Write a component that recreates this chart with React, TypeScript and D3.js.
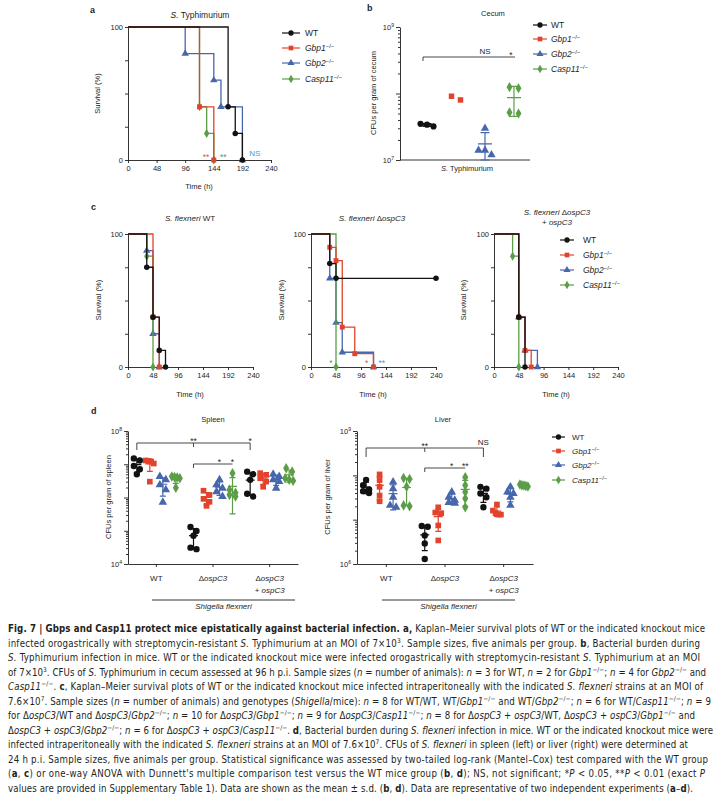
import { useEffect, useRef } from "react";
import * as d3 from "d3";

const FONT = "'Liberation Sans', Arial, Helvetica, sans-serif";
const CAPTION_FONT = "'Liberation Sans Narrow', 'DejaVu Sans Condensed', 'Liberation Sans', sans-serif";
const INK = "#1e1e1e";

const SERIES = ["WT", "Gbp1", "Gbp2", "Casp11"];
const COLOR: Record<string, string> = { WT: "#121212", Gbp1: "#e2432c", Gbp2: "#4767ad", Casp11: "#5b9e47" };
const LABEL: Record<string, string> = { WT: "WT", Gbp1: "_Gbp1_^−/−^", Gbp2: "_Gbp2_^−/−^", Casp11: "_Casp11_^−/−^" };
const SYMBOL: Record<string, d3.SymbolType> = {
  WT: d3.symbolCircle,
  Gbp1: d3.symbolSquare,
  Gbp2: d3.symbolTriangle,
  Casp11: d3.symbolDiamond,
};

const TIME_TICKS = [0, 48, 96, 144, 192, 240];
const SURVIVAL_TICKS = [0, 25, 50, 75, 100];

// a: S. Typhimurium survival, event times (h) and survival (%) right after each event
const typhiTimes: Record<string, number[]> = { WT: [168, 180, 192], Gbp1: [120, 144], Gbp2: [96, 144, 156, 192], Casp11: [120, 132, 144] };
const typhiSurvival: Record<string, number[]> = { WT: [40, 20, 0], Gbp1: [40, 0], Gbp2: [80, 60, 40, 0], Casp11: [40, 20, 0] };

// c: S. flexneri strains
const flexTimes: Record<string, number[]> = { WT: [36, 48, 60, 72], Gbp1: [48, 60], Gbp2: [36, 48, 60], Casp11: [36, 48] };
const flexSurvival: Record<string, number[]> = { WT: [75, 37.5, 12.5, 0], Gbp1: [37.5, 0], Gbp2: [87.5, 25, 0], Casp11: [83.3, 0] };
const ospTimes: Record<string, number[]> = { WT: [36, 48], Gbp1: [36, 48, 60, 84, 120], Gbp2: [36, 48, 60, 120], Casp11: [48] };
const ospSurvival: Record<string, number[]> = { WT: [77.8, 66.7], Gbp1: [90, 80, 30, 10, 0], Gbp2: [66.7, 33.3, 11.1, 0], Casp11: [0] };
const ospEnds: Record<string, number> = { WT: 240 };
const compTimes: Record<string, number[]> = { WT: [48, 60], Gbp1: [48, 60, 72], Gbp2: [48, 60, 84], Casp11: [36, 48] };
const compSurvival: Record<string, number[]> = { WT: [37.5, 0], Gbp1: [37.5, 12.5, 0], Gbp2: [37.5, 12.5, 0], Casp11: [83.3, 0] };

// b: CFUs per gram of cecum
const cecum: Record<string, number[]> = {
  WT: [3.5e7, 3.2e7, 3.4e7],
  Gbp1: [8.0e7, 9.1e7],
  Gbp2: [3.0e7, 1.4e7, 1.4e7, 1.2e7],
  Casp11: [1.25e8, 1.2e8, 5.2e7, 5.0e7],
};

// d: CFUs per gram of spleen / liver, by Shigella strain
const GROUPS = ["WT", "ospC3", "comp"];
const spleenWT: Record<string, number[]> = {
  WT: [1.5e7, 1.3e7, 8.9e6, 7.1e6, 5.0e6],
  Gbp1: [1.3e7, 1.26e7, 1.2e7, 1.05e7, 3.0e6],
  Gbp2: [4.3e6, 3.4e6, 2.4e6, 1.7e6, 7.2e5],
  Casp11: [4.3e6, 4.1e6, 4.0e6, 3.8e6, 1.95e6],
};
const spleenOspC3: Record<string, number[]> = {
  WT: [1.3e5, 9.8e4, 7.1e4, 3.1e4, 2.8e4],
  Gbp1: [1.6e6, 1.2e6, 9.1e5, 7.4e5, 5.6e5],
  Gbp2: [3.4e6, 2.4e6, 1.9e6, 1.5e6, 1.07e6],
  Casp11: [5.4e6, 1.7e6, 1.4e6, 1.2e6, 1.07e6],
};
const spleenComp: Record<string, number[]> = {
  WT: [6.0e6, 5.0e6, 3.4e6, 1.3e6, 1.07e6],
  Gbp1: [5.4e6, 4.8e6, 3.8e6, 3.0e6, 2.1e6],
  Gbp2: [5.0e6, 4.3e6, 3.4e6, 3.0e6, 1.9e6],
  Casp11: [7.6e6, 6.0e6, 3.8e6, 3.4e6, 3.2e6],
};
const liverWT: Record<string, number[]> = {
  WT: [7.9e7, 6.0e7, 4.8e7, 4.4e7, 4.0e7],
  Gbp1: [1.05e8, 7.8e7, 5.5e7, 3.5e7, 2.6e7],
  Gbp2: [7.1e7, 5.0e7, 3.2e7, 2.1e7, 1.9e7],
  Casp11: [8.7e7, 8.3e7, 5.5e7, 2.1e7, 2.0e7],
};
const liverOspC3: Record<string, number[]> = {
  WT: [7.2e6, 6.9e6, 4.4e6, 2.9e6, 1.3e6],
  Gbp1: [1.9e7, 1.45e7, 1.4e7, 7.4e6, 3.4e6],
  Gbp2: [4.2e7, 3.2e7, 2.75e7, 2.45e7, 2.35e7],
  Casp11: [9.1e7, 6.0e7, 4.2e7, 3.0e7, 1.9e7],
};
const liverComp: Record<string, number[]> = {
  WT: [5.5e7, 5.0e7, 3.9e7, 3.2e7, 1.9e7],
  Gbp1: [2.2e7, 1.6e7, 1.4e7, 1.3e7, 1.3e7],
  Gbp2: [5.5e7, 4.2e7, 3.9e7, 3.2e7, 2.1e7],
  Casp11: [6.2e7, 6.0e7, 5.9e7, 5.75e7, 5.6e7],
};

const CAPTION = [
  "§Fig. 7 | Gbps and Casp11 protect mice epistatically against bacterial infection. a,§ Kaplan–Meier survival plots of WT or the indicated knockout mice",
  "infected orogastrically with streptomycin-resistant _S._ Typhimurium at an MOI of 7×10^3^. Sample sizes, five animals per group. §b§, Bacterial burden during",
  "_S._ Typhimurium infection in mice. WT or the indicated knockout mice were infected orogastrically with streptomycin-resistant _S._ Typhimurium at an MOI",
  "of 7×10^3^. CFUs of _S._ Typhimurium in cecum assessed at 96 h p.i. Sample sizes (_n_ = number of animals): _n_ = 3 for WT, _n_ = 2 for _Gbp1_^−/−^; _n_ = 4 for _Gbp2_^−/−^ and",
  "_Casp11_^−/−^. §c§, Kaplan–Meier survival plots of WT or the indicated knockout mice infected intraperitoneally with the indicated _S. flexneri_ strains at an MOI of",
  "7.6×10^7^. Sample sizes (_n_ = number of animals) and genotypes (_Shigella_/mice): _n_ = 8 for WT/WT, WT/_Gbp1_^−/−^ and WT/_Gbp2_^−/−^; _n_ = 6 for WT/_Casp11_^−/−^; _n_ = 9",
  "for Δ_ospC3_/WT and Δ_ospC3_/_Gbp2_^−/−^; _n_ = 10 for Δ_ospC3_/_Gbp1_^−/−^; _n_ = 9 for Δ_ospC3_/_Casp11_^−/−^; _n_ = 8 for Δ_ospC3_ + _ospC3_/WT, Δ_ospC3_ + _ospC3_/_Gbp1_^−/−^ and",
  "Δ_ospC3_ + _ospC3_/_Gbp2_^−/−^; _n_ = 6 for Δ_ospC3_ + _ospC3_/_Casp11_^−/−^. §d§, Bacterial burden during _S. flexneri_ infection in mice. WT or the indicated knockout mice were",
  "infected intraperitoneally with the indicated _S. flexneri_ strains at an MOI of 7.6×10^7^. CFUs of _S. flexneri_ in spleen (left) or liver (right) were determined at",
  "24 h p.i. Sample sizes, five animals per group. Statistical significance was assessed by two-tailed log-rank (Mantel–Cox) test compared with the WT group",
  "(§a§, §c§) or one-way ANOVA with Dunnett's multiple comparison test versus the WT mice group (§b§, §d§); NS, not significant; *_P_ < 0.05, **_P_ < 0.01 (exact _P_",
  "values are provided in Supplementary Table 1). Data are shown as the mean ± s.d. (§b§, §d§). Data are representative of two independent experiments (§a§–§d§).",
];
const CAPTION_RIGHT = [705, 700, 700, 706, 703, 711, 695, 713, 688, 708, 705, 693];

type Sel = d3.Selection<any, unknown, null, undefined>;

// tiny markup: §bold§ _italic_ ^superscript^
function rich(text: Sel, src: string) {
  const fs = +text.attr("font-size");
  const parts = src.split(/(§[^§]+§|_[^_]+_|\^[^^]+\^)/).filter((p) => p !== "");
  let raise = 0;
  parts.forEach((p) => {
    const ts = text.append("tspan");
    let dy = raise;
    raise = 0;
    if (p[0] === "^") {
      const r = fs * 0.38;
      ts.attr("font-size", fs * 0.68).text(p.slice(1, -1));
      dy -= r;
      raise = r;
    } else if (p[0] === "§") ts.attr("font-weight", "bold").text(p.slice(1, -1));
    else if (p[0] === "_") ts.attr("font-style", "italic").text(p.slice(1, -1));
    else ts.text(p);
    if (dy) ts.attr("dy", dy);
  });
  return text;
}

function label(
  g: Sel, x: number, y: number, src: string,
  o: { size?: number; anchor?: string; rotate?: boolean; color?: string; weight?: string } = {}
) {
  const t = g.append("text")
    .attr("x", x).attr("y", y)
    .attr("font-family", FONT)
    .attr("font-size", o.size ?? 7.5)
    .attr("text-anchor", o.anchor ?? "middle")
    .attr("fill", o.color ?? INK);
  if (o.weight) t.attr("font-weight", o.weight);
  if (o.rotate) t.attr("transform", `rotate(-90,${x},${y})`);
  return rich(t, src);
}

function styleAxis(g: Sel, size = 7.5) {
  g.attr("font-family", FONT).attr("font-size", size);
  g.selectAll(".domain, .tick line").attr("stroke", INK).attr("stroke-width", 0.9);
  g.selectAll(".tick text").attr("fill", INK);
}

function marker(g: Sel, s: string, x: number, y: number, area: number) {
  g.append("path")
    .attr("d", d3.symbol().type(SYMBOL[s]).size(area)()!)
    .attr("transform", `translate(${x},${y})`)
    .attr("fill", COLOR[s]);
}

type Box = { x0: number; x1: number; y0: number; y1: number };

function drawKM(
  svg: Sel, box: Box, times: Record<string, number[]>, surv: Record<string, number[]>,
  ends: Record<string, number>, order: string[]
) {
  const x = d3.scaleLinear().domain([0, 240]).range([box.x0, box.x1]);
  const y = d3.scaleLinear().domain([0, 100]).range([box.y1, box.y0]);
  const g = svg.append("g");

  const ax = g.append("g").attr("transform", `translate(0,${box.y1})`)
    .call(d3.axisBottom(x).tickValues(TIME_TICKS).tickSize(3).tickSizeOuter(0).tickPadding(3));
  styleAxis(ax, 7.5);
  const ay = g.append("g").attr("transform", `translate(${box.x0},0)`)
    .call(d3.axisLeft(y).tickValues(SURVIVAL_TICKS).tickSize(3).tickSizeOuter(0).tickPadding(2)
      .tickFormat((d) => (d === 0 || d === 100 ? String(d) : "")));
  styleAxis(ay, 7.5);

  const line = d3.line<[number, number]>().x((d) => x(d[0])).y((d) => y(d[1]));
  order.forEach((s) => {
    const pts: [number, number][] = [[0, 100]];
    let cur = 100;
    times[s].forEach((t, i) => {
      pts.push([t, cur]);
      cur = surv[s][i];
      pts.push([t, cur]);
    });
    if (ends[s] !== undefined) pts.push([ends[s], cur]);
    g.append("path").attr("d", line(pts)!).attr("fill", "none")
      .attr("stroke", COLOR[s]).attr("stroke-width", 1.3);
    times[s].forEach((t, i) => marker(g, s, x(t), y(surv[s][i]), 24));
    if (ends[s] !== undefined) marker(g, s, x(ends[s]), y(cur), 24);
  });
  return { x, y };
}

function drawLogAxis(svg: Sel, y: d3.ScaleLogarithmic<number, number>, x0: number) {
  const [lo, hi] = y.domain();
  const decades = d3.range(Math.round(Math.log10(lo)), Math.round(Math.log10(hi)) + 1).map((e) => 10 ** e);
  const minor = decades.slice(0, -1).flatMap((d) => d3.range(2, 10).map((k) => d * k));
  const g1 = svg.append("g").attr("transform", `translate(${x0},0)`)
    .call(d3.axisLeft(y).tickValues(minor).tickSize(2).tickSizeOuter(0).tickFormat(() => ""));
  styleAxis(g1);
  const g2 = svg.append("g").attr("transform", `translate(${x0},0)`)
    .call(d3.axisLeft(y).tickValues(decades).tickSize(4).tickSizeOuter(0).tickFormat(() => ""));
  g2.select(".domain").remove();
  styleAxis(g2);
  [lo, hi].forEach((d) => label(svg, x0 - 6, y(d) + 3, `10^${Math.round(Math.log10(d))}^`, { anchor: "end", size: 7.5 }));
}

// points of similar value are spread sideways, symmetric around the column
function drawDots(
  g: Sel, data: Record<string, number[]>, xOf: (s: string) => number,
  y: d3.ScaleLogarithmic<number, number>, step: number, maxSpread: number,
  meanW: number, capW: number, area: number
) {
  const [lo, hi] = y.domain();
  SERIES.forEach((s) => {
    const vals = data[s];
    const cx = xOf(s);
    const pys = vals.map((v) => y(v)).sort((a, b) => a - b);
    const rows: number[][] = [];
    pys.forEach((py) => {
      const last = rows[rows.length - 1];
      if (last && py - last[0] < 5) last.push(py);
      else rows.push([py]);
    });
    rows.forEach((row) => {
      const st = row.length > 1 ? Math.min(step, maxSpread / (row.length - 1)) : 0;
      row.forEach((py, i) => marker(g, s, cx + (i - (row.length - 1) / 2) * st, py, area));
    });
    if (vals.length >= 3) {
      const m = d3.mean(vals)!;
      const sd = d3.deviation(vals)!;
      const yt = y(Math.min(m + sd, hi));
      const yb = y(Math.max(m - sd, lo));
      const p = d3.path();
      p.moveTo(cx, yt); p.lineTo(cx, yb);
      p.moveTo(cx - capW / 2, yt); p.lineTo(cx + capW / 2, yt);
      p.moveTo(cx - capW / 2, yb); p.lineTo(cx + capW / 2, yb);
      p.moveTo(cx - meanW / 2, y(m)); p.lineTo(cx + meanW / 2, y(m));
      g.append("path").attr("d", p.toString()).attr("fill", "none")
        .attr("stroke", COLOR[s]).attr("stroke-width", 1.2);
    }
  });
}

function drawLegend(svg: Sel, x: number, len: number, textX: number, rows: number[], size = 8.5) {
  SERIES.forEach((s, i) => {
    const y = rows[i];
    svg.append("line").attr("x1", x).attr("x2", x + len).attr("y1", y).attr("y2", y)
      .attr("stroke", COLOR[s]).attr("stroke-width", 1.2);
    marker(svg, s, x + len / 2, y, 22);
    label(svg, textX, y + 3, LABEL[s], { anchor: "start", size });
  });
}

function bracket(svg: Sel, xL: number, xR: number, y: number, drops: [number, number][]) {
  const p = d3.path();
  p.moveTo(xL, y); p.lineTo(xR, y);
  drops.forEach(([x, len]) => { p.moveTo(x, y); p.lineTo(x, y + len); });
  svg.append("path").attr("d", p.toString()).attr("fill", "none").attr("stroke", "#333").attr("stroke-width", 0.9);
}

function draw(svg: Sel) {
  // ---------- a ----------
  label(svg, 90, 13, "a", { size: 9, weight: "bold", anchor: "start" });
  const a = drawKM(svg, { x0: 128, x1: 271, y0: 27, y1: 160 }, typhiTimes, typhiSurvival, {}, ["Casp11", "Gbp2", "Gbp1", "WT"]);
  label(svg, 200, 18, "_S._ Typhimurium", { size: 8.5 });
  label(svg, 100, 93.5, "Survival (%)", { rotate: true });
  label(svg, 199, 189, "Time (h)");
  label(svg, a.x(131), 160, "**", { size: 8.5, color: "#e0505a" });
  label(svg, a.x(160), 160, "**", { size: 8.5, color: "#3f9f6e" });
  label(svg, a.x(213), 156, "NS", { size: 8, color: "#5a8fcf" });
  drawLegend(svg, 282, 18, 305, [33, 48, 63, 79]);

  // ---------- b ----------
  label(svg, 367, 11, "b", { size: 9, weight: "bold", anchor: "start" });
  const by = d3.scaleLog().domain([1e7, 1e9]).range([160, 27]);
  const bx = d3.scalePoint<string>().domain(SERIES).range([427, 514]);
  drawLogAxis(svg, by, 400);
  svg.append("line").attr("x1", 400).attr("x2", 530).attr("y1", 160).attr("y2", 160).attr("stroke", INK).attr("stroke-width", 0.9);
  drawDots(svg, cecum, (s) => bx(s)!, by, 9, 13, 14, 9, 30);
  label(svg, 493, 16, "Cecum");
  label(svg, 376, 93, "CFUs per gram of cecum", { rotate: true });
  label(svg, 467, 171, "_S._ Typhimurium");
  bracket(svg, bx("WT")! - 4, bx("Casp11")! + 1, 57, [[bx("WT")! - 4, 4]]);
  label(svg, bx("Gbp2")!, 54, "NS", { size: 8 });
  label(svg, bx("Casp11")! - 3, 58, "*", { size: 8.5 });
  drawLegend(svg, 533, 14, 551, [25, 39, 54, 69]);

  // ---------- c ----------
  label(svg, 91, 210, "c", { size: 9, weight: "bold", anchor: "start" });
  const order = ["Gbp2", "Casp11", "Gbp1", "WT"];
  drawKM(svg, { x0: 128, x1: 253, y0: 234, y1: 367 }, flexTimes, flexSurvival, {}, order);
  label(svg, 190, 221, "_S. flexneri_ WT", { size: 8 });
  label(svg, 101, 300, "Survival (%)", { rotate: true });
  label(svg, 190, 397, "Time (h)");

  const c2 = drawKM(svg, { x0: 311, x1: 436, y0: 234, y1: 367 }, ospTimes, ospSurvival, ospEnds, order);
  label(svg, 372, 221, "_S. flexneri_ Δ_ospC3_", { size: 8 });
  label(svg, 284, 300, "Survival (%)", { rotate: true });
  label(svg, 373, 397, "Time (h)");
  label(svg, c2.x(38), 366, "*", { size: 8.5, color: "#3f9f6e" });
  label(svg, c2.x(107), 366, "*", { size: 8.5, color: "#e0505a" });
  label(svg, c2.x(136), 366, "**", { size: 8.5, color: "#5a8fcf" });

  drawKM(svg, { x0: 494, x1: 618, y0: 234, y1: 367 }, compTimes, compSurvival, {}, order);
  label(svg, 557, 215, "_S. flexneri_ Δ_ospC3_", { size: 8 });
  label(svg, 557, 225, "+ _ospC3_", { size: 8 });
  label(svg, 466, 300, "Survival (%)", { rotate: true });
  label(svg, 556, 397, "Time (h)");
  drawLegend(svg, 560, 14, 583, [240, 255, 270, 285]);

  // ---------- d ----------
  label(svg, 91, 414, "d", { size: 9, weight: "bold", anchor: "start" });
  const organs = [
    { name: "Spleen", title: 213, ylab: 111, x0: 128, x1: 298, sub: 26, dom: [1e4, 1e8], data: [spleenWT, spleenOspC3, spleenComp],
      under: [152, 295], br1: 443, br1Drop: 7, br2: 464, star1: "**", star2: "*", stars2: ["*", "*"] },
    { name: "Liver", title: 443, ylab: 330, x0: 357, x1: 533, sub: 27, dom: [1e6, 1e9], data: [liverWT, liverOspC3, liverComp],
      under: [382, 515], br1: 448, br1Drop: 9, br2: 468, star1: "**", star2: "NS", stars2: ["*", "**"] },
  ];
  organs.forEach((o) => {
    const y = d3.scaleLog().domain(o.dom).range([564, 431]);
    const gx = d3.scaleBand<string>().domain(GROUPS).range([o.x0, o.x1]);
    const sx = d3.scaleBand<string>().domain(SERIES).range([-o.sub, o.sub]);
    const center = (grp: string) => gx(grp)! + gx.bandwidth() / 2;
    const xOf = (grp: string, s: string) => center(grp) + sx(s)! + sx.bandwidth() / 2;

    drawLogAxis(svg, y, o.x0);
    const axg = svg.append("g").attr("transform", "translate(0,564)")
      .call(d3.axisBottom(gx).tickSize(3).tickSizeOuter(0).tickFormat(() => ""));
    styleAxis(axg);

    GROUPS.forEach((grp, i) => drawDots(svg, o.data[i], (s) => xOf(grp, s), y, 6, 8, 9, 6, 32));

    label(svg, o.title, 422, o.name);
    label(svg, o.ylab, 497, `CFUs per gram of ${o.name.toLowerCase()}`, { rotate: true });
    label(svg, center("WT"), 581, "WT", { size: 8 });
    label(svg, center("ospC3"), 581, "Δ_ospC3_", { size: 8 });
    label(svg, center("comp"), 581, "Δ_ospC3_", { size: 8 });
    label(svg, center("comp"), 593, "+ _ospC3_", { size: 8 });
    svg.append("line").attr("x1", o.under[0]).attr("x2", o.under[1]).attr("y1", 600).attr("y2", 600)
      .attr("stroke", INK).attr("stroke-width", 0.9);
    label(svg, (o.under[0] + o.under[1]) / 2, 609, "_Shigella flexneri_", { size: 8 });

    const xa = xOf("WT", "WT");
    const xm = xOf("ospC3", "WT");
    const xc = xOf("comp", "WT");
    bracket(svg, xa, xc, o.br1, [[xa, o.br1Drop], [xm, 4], [xc, o.br1Drop]]);
    label(svg, xm, o.br1 + 0.5, o.star1, { size: 8.5 });
    if (o.star2 === "NS") label(svg, xc, o.br1 - 3, "NS", { size: 8 });
    else label(svg, xc, o.br1 + 0.5, o.star2, { size: 8.5 });
    const xe = xOf("ospC3", "Casp11");
    bracket(svg, xm, xe, o.br2, [[xm, 4]]);
    label(svg, xOf("ospC3", "Gbp2"), o.br2 + 0.5, o.stars2[0], { size: 8.5 });
    label(svg, xe, o.br2 + 0.5, o.stars2[1], { size: 8.5 });
  });
  drawLegend(svg, 552, 13, 572, [437, 451, 465, 480], 8);

  // ---------- caption ----------
  CAPTION.forEach((line, i) => {
    const t = svg.append("text")
      .attr("x", 8).attr("y", 632 + i * 14.5)
      .attr("font-family", CAPTION_FONT)
      .attr("font-size", 9.6)
      .attr("fill", "#231f20")
      .attr("textLength", CAPTION_RIGHT[i] - 8)
      .attr("lengthAdjust", "spacing");
    rich(t, line);
  });
}

export default function App() {
  const ref = useRef<SVGSVGElement>(null);
  useEffect(() => {
    if (!ref.current) return;
    const svg = d3.select(ref.current) as unknown as Sel;
    svg.selectAll("*").remove();
    svg.append("rect").attr("width", 720).attr("height", 806).attr("fill", "#fff");
    draw(svg);
  }, []);
  return <svg ref={ref} width={720} height={806} style={{ position: "absolute", left: 0, top: 0, display: "block" }} />;
}
